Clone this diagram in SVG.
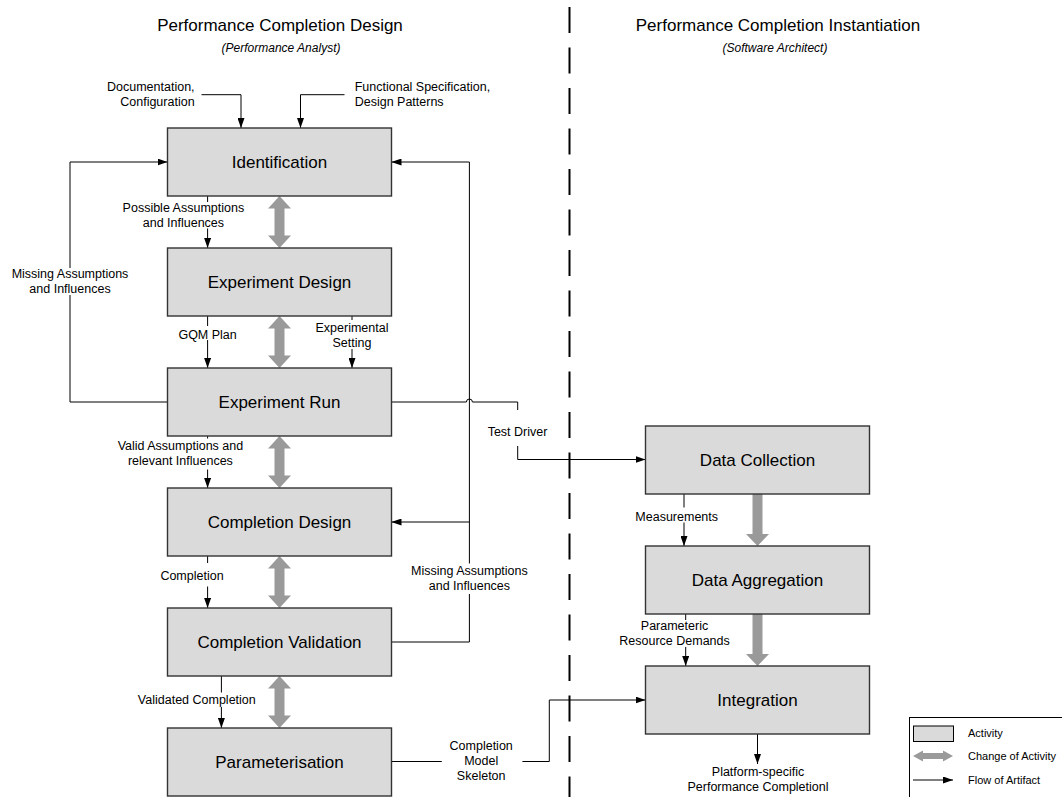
<svg xmlns="http://www.w3.org/2000/svg" xmlns:xlink="http://www.w3.org/1999/xlink" width="1062" height="797" viewBox="0 0 1062 797">
<style>
text{font-family:"Liberation Sans",Arial,sans-serif;fill:#000}
.t{font-size:17px;text-anchor:middle}
.st{font-size:12px;font-style:italic;text-anchor:middle}
.bl{font-size:17px;text-anchor:middle}
.lb{font-size:12.5px;text-anchor:middle}
.lg{font-size:11px}
.box{fill:#dadada;stroke:#333;stroke-width:1.4}
.ln{fill:none;stroke:#000;stroke-width:1}
.gr{fill:#9a9a9a}
</style>
<defs>
<marker id="ah" markerWidth="10" markerHeight="7" refX="10" refY="3.5" orient="auto" markerUnits="userSpaceOnUse"><path d="M0,0L10,3.5L0,7z" fill="#000"/></marker>
<path id="dbl" d="M0,0 L11.5,12.5 L5,12.5 L5,39.5 L11.5,39.5 L0,52 L-11.5,39.5 L-5,39.5 L-5,12.5 L-11.5,12.5 Z"/>
<path id="sgl" d="M-5,0 L5,0 L5,40 L11.5,40 L0,52 L-11.5,40 L-5,40 Z"/>
</defs>
<rect width="1062" height="797" fill="#fff"/>

<g id="titles">
<text class="t" x="280" y="31">Performance Completion Design</text>
<text class="st" x="281" y="52">(Performance Analyst)</text>
<text class="t" x="778" y="31">Performance Completion Instantiation</text>
<text class="st" x="775" y="52">(Software Architect)</text>
</g>

<line id="swimlane-divider" x1="569.5" y1="7" x2="569.5" y2="797" stroke="#000" stroke-width="2" stroke-dasharray="26 14.5"/>

<g id="change-arrows" class="gr">
<use xlink:href="#dbl" x="279.5" y="196"/>
<use xlink:href="#dbl" x="279.5" y="316"/>
<use xlink:href="#dbl" x="279.5" y="436"/>
<use xlink:href="#dbl" x="279.5" y="556"/>
<use xlink:href="#dbl" x="279.5" y="676"/>
<use xlink:href="#sgl" x="757.5" y="494"/>
<use xlink:href="#sgl" x="757.5" y="614"/>
</g>

<g id="connectors" class="ln">
<path d="M201.5,94.7 H241 V128" marker-end="url(#ah)"/>
<path d="M344.5,94.7 H300.5 V128" marker-end="url(#ah)"/>
<path d="M207.6,196 V202"/>
<path d="M207.6,228.5 V248" marker-end="url(#ah)"/>
<path d="M207.6,316 V326"/>
<path d="M207.6,340 V368" marker-end="url(#ah)"/>
<path d="M352,316 V320"/>
<path d="M352,349 V368" marker-end="url(#ah)"/>
<path d="M207.6,436 V438.5"/>
<path d="M207.6,469.5 V488" marker-end="url(#ah)"/>
<path d="M207.6,556 V563"/>
<path d="M207.6,586.5 V608" marker-end="url(#ah)"/>
<path d="M221.4,676 V692.5"/>
<path d="M221.4,707 V728" marker-end="url(#ah)"/>
<path d="M167.5,402 H70 V295"/>
<path d="M70,268 V162 H167.5" marker-end="url(#ah)"/>
<path d="M391.5,642 H469.4 V594"/>
<path d="M469.4,563.5 V162 H391.5" marker-end="url(#ah)"/>
<path d="M469.4,522 H391.5" marker-end="url(#ah)"/>
<path d="M391.5,402 H466.4 A3,3 0 0 1 472.4,402 H517.7 V410"/>
<path d="M517.7,446 V459.5 H645.5" marker-end="url(#ah)"/>
<path d="M391.5,761.5 H441.8"/>
<path d="M522.4,761.5 H549.3 V700 H645.5" marker-end="url(#ah)"/>
<path d="M684,494 V507.5"/>
<path d="M684,522.5 V546" marker-end="url(#ah)"/>
<path d="M685.7,614 V620"/>
<path d="M685.7,647 V666" marker-end="url(#ah)"/>
<path d="M757.5,734 V764" marker-end="url(#ah)"/>
</g>

<g id="connector-labels">
<text class="lb" x="194.6" y="91" text-anchor="end" style="text-anchor:end">Documentation,</text>
<text class="lb" x="194.6" y="106" style="text-anchor:end">Configuration</text>
<text class="lb" x="354.7" y="91" style="text-anchor:start">Functional Specification,</text>
<text class="lb" x="354.7" y="106" style="text-anchor:start">Design Patterns</text>
<text class="lb" x="183.4" y="212">Possible Assumptions</text>
<text class="lb" x="183.4" y="226.5">and Influences</text>
<text class="lb" x="70" y="277.5">Missing Assumptions</text>
<text class="lb" x="70" y="292.5">and Influences</text>
<text class="lb" x="207.6" y="338.5">GQM Plan</text>
<text class="lb" x="352" y="331.5">Experimental</text>
<text class="lb" x="352" y="346.5">Setting</text>
<text class="lb" x="180.4" y="450">Valid Assumptions and</text>
<text class="lb" x="180.4" y="465">relevant Influences</text>
<text class="lb" x="192" y="580">Completion</text>
<text class="lb" x="196.8" y="703.5">Validated Completion</text>
<text class="lb" x="469.4" y="574.5">Missing Assumptions</text>
<text class="lb" x="469.4" y="589.5">and Influences</text>
<text class="lb" x="517.5" y="436">Test Driver</text>
<text class="lb" x="481.2" y="750">Completion</text>
<text class="lb" x="481.2" y="765">Model</text>
<text class="lb" x="481.2" y="780">Skeleton</text>
<text class="lb" x="676.7" y="520.5">Measurements</text>
<text class="lb" x="674.5" y="630">Parameteric</text>
<text class="lb" x="674.5" y="644.5">Resource Demands</text>
<text class="lb" x="758" y="775.5">Platform-specific</text>
<text class="lb" x="758" y="790.5">Performance Completionl</text>
</g>

<g id="identification"><rect class="box" x="167.5" y="128" width="224" height="68"/><text class="bl" x="279.5" y="168">Identification</text></g>
<g id="experiment-design"><rect class="box" x="167.5" y="248" width="224" height="68"/><text class="bl" x="279.5" y="288">Experiment Design</text></g>
<g id="experiment-run"><rect class="box" x="167.5" y="368" width="224" height="68"/><text class="bl" x="279.5" y="408">Experiment Run</text></g>
<g id="completion-design"><rect class="box" x="167.5" y="488" width="224" height="68"/><text class="bl" x="279.5" y="528">Completion Design</text></g>
<g id="completion-validation"><rect class="box" x="167.5" y="608" width="224" height="68"/><text class="bl" x="279.5" y="648">Completion Validation</text></g>
<g id="parameterisation"><rect class="box" x="167.5" y="728" width="224" height="68"/><text class="bl" x="279.5" y="768">Parameterisation</text></g>
<g id="data-collection"><rect class="box" x="645.5" y="426" width="224" height="68"/><text class="bl" x="757.5" y="466">Data Collection</text></g>
<g id="data-aggregation"><rect class="box" x="645.5" y="546" width="224" height="68"/><text class="bl" x="757.5" y="586">Data Aggregation</text></g>
<g id="integration"><rect class="box" x="645.5" y="666" width="224" height="68"/><text class="bl" x="757.5" y="706">Integration</text></g>

<g id="legend">
<rect x="909.5" y="717.5" width="160" height="90" fill="#fff" stroke="#000" stroke-width="1"/>
<rect x="913.5" y="726" width="40" height="15.5" fill="#dadada" stroke="#000" stroke-width="1"/>
<text class="lg" x="968" y="737">Activity</text>
<path class="gr" d="M913,756 L923,750.5 L923,753 L943,753 L943,750.5 L953,756 L943,761.5 L943,759 L923,759 L923,761.5 Z"/>
<text class="lg" x="968" y="760">Change of Activity</text>
<path class="ln" d="M913,780 H953" marker-end="url(#ah)"/>
<text class="lg" x="968" y="784">Flow of Artifact</text>
</g>
</svg>
